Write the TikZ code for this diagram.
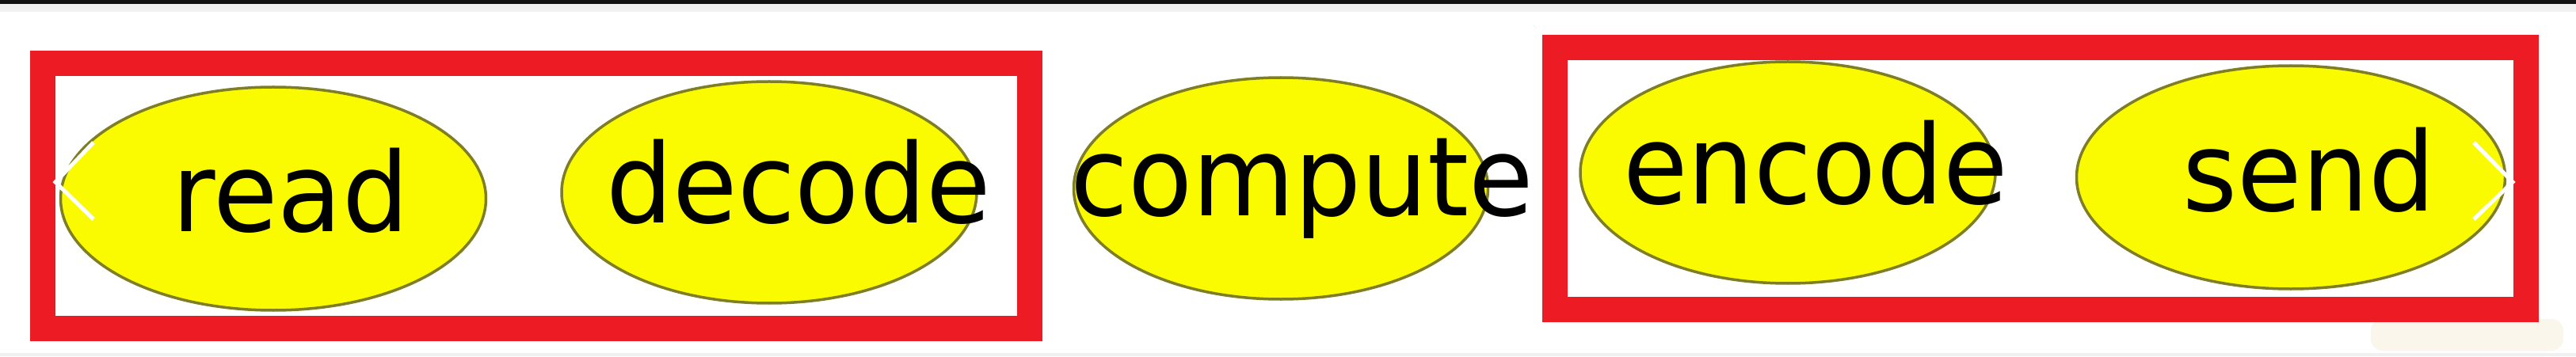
\documentclass[tikz,border=0pt]{standalone}
\usepackage{fontspec}
\setmainfont{DejaVu Sans}
\usetikzlibrary{shapes.geometric}
\definecolor{boxred}{HTML}{ED1C24}
\definecolor{stagefill}{HTML}{FBFB00}
\definecolor{stageline}{HTML}{7E7E26}
\begin{document}
\begin{tikzpicture}[
  stage/.style={ellipse, draw=stageline, line width=0.035cm, fill=stagefill, inner sep=0pt},
  word/.style={anchor=base, inner sep=0pt, xscale=0.955, font=\fontsize{39.5}{41}\selectfont},
  grp/.style={draw=boxred, line width=0.32cm, line join=miter},
  chev/.style={draw=white, line width=0.05cm}]
\useasboundingbox (0,0) rectangle (32.52,4.5);
\fill[white] (0,0) rectangle (32.52,4.5);
\fill[black!92] (0,4.45) rectangle (32.52,4.5);
\fill[black!5] (0,4.35) rectangle (32.52,4.45);
\fill[black!6] (0,0) rectangle (32.52,0.04);
\fill[rounded corners=0.15cm, color={rgb,255:red,250;green,246;blue,236}] (29.93,0.07) rectangle (32.36,0.47);
% groups
\draw[grp] (0.54,3.695) rectangle (13.00,0.35);
\draw[grp] (19.63,3.895) rectangle (31.89,0.59);
% stages
\node[stage, minimum width=5.37cm, minimum height=2.82cm] (read) at (3.45,1.99){};
\node[stage, minimum width=5.24cm, minimum height=2.80cm] (decode) at (9.71,2.07){};
\node[stage, minimum width=5.23cm, minimum height=2.80cm] (compute) at (16.17,2.12){};
\node[stage, minimum width=5.24cm, minimum height=2.80cm] (encode) at (22.57,2.32){};
\node[stage, minimum width=5.41cm, minimum height=2.82cm] (send) at (28.92,2.26){};
\node[word] (readtxt) at (3.67,1.57){read};
\node[word] (decodetxt) at (10.08,1.69){decode};
\node[word] (computetxt) at (16.44,1.77){compute};
\node[word] (encodetxt) at (22.92,1.93){encode};
\node[word] (sendtxt) at (29.15,1.83){send};
% arrows of the slider
\draw[chev] (1.18,2.70) -- (0.70,2.20) -- (1.18,1.73);
\draw[chev] (31.23,2.70) -- (31.72,2.20) -- (31.23,1.73);
\end{tikzpicture}
\end{document}
